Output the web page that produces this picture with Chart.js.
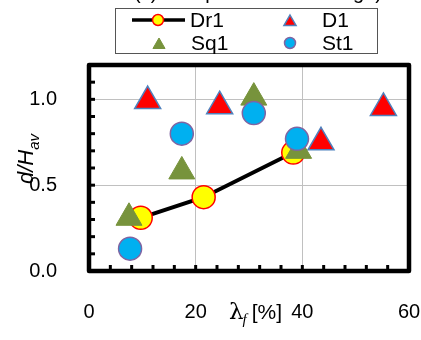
<!DOCTYPE html>
<html>
<head>
<meta charset="utf-8">
<script src="https://cdn.jsdelivr.net/npm/chart.js@4"></script>
<style>
  html, body { margin: 0; padding: 0; background: #fff; }
  #wrap { width: 421px; height: 340px; position: relative; }
</style>
</head>
<body>
<div id="wrap"><canvas id="chart" width="421" height="340"></canvas></div>
<script>
  // values: x = lambda_f [%], y = d/H_av
  const dr1X = [9.7, 21.5, 38.3];
  const dr1Y = [0.31, 0.43, 0.69];
  const d1X = [11.0, 24.5, 43.5, 55.2];
  const d1Y = [0.99, 0.96, 0.75, 0.95];
  const sq1X = [7.5, 17.4, 30.9, 39.3];
  const sq1Y = [0.31, 0.58, 1.01, 0.70];
  const st1X = [7.7, 17.4, 30.9, 39.0];
  const st1Y = [0.13, 0.80, 0.92, 0.77];

  const xTicks = [0, 20, 40, 60];
  const yTicks = [0.0, 0.5, 1.0];
  const xMinorStep = 4;
  const yMinorStep = 0.1;

  const titleText = '(c) Compact to wider range)';
  const FONT = '"Liberation Sans", Arial, sans-serif';

  const pts = (xs, ys) => xs.map((x, i) => ({ x, y: ys[i] }));

  // frame, minor ticks, axis titles, clipped top title
  const decor = {
    id: 'decor',
    beforeDatasetsDraw(chart) {
      const { ctx, chartArea: a, scales: { x, y } } = chart;
      ctx.save();
      ctx.strokeStyle = '#000';
      ctx.lineWidth = 3;
      for (let v = xMinorStep; v < 60; v += xMinorStep) {
        const px = x.getPixelForValue(v);
        ctx.beginPath(); ctx.moveTo(px, a.bottom); ctx.lineTo(px, a.bottom - 6); ctx.stroke();
      }
      for (let v = yMinorStep; v < 1.2 - 1e-6; v += yMinorStep) {
        const py = y.getPixelForValue(v);
        ctx.beginPath(); ctx.moveTo(a.left, py); ctx.lineTo(a.left + 6, py); ctx.stroke();
      }
      ctx.lineWidth = 4.5;
      ctx.lineJoin = 'round';
      ctx.strokeRect(a.left, a.top, a.right - a.left, a.bottom - a.top);
      ctx.restore();
    },
    afterDraw(chart) {
      const { ctx } = chart;
      ctx.save();
      ctx.fillStyle = '#000';
      // top title, mostly cut off by the page edge
      ctx.font = '20px ' + FONT;
      ctx.textAlign = 'center';
      ctx.textBaseline = 'alphabetic';
      ctx.fillText(titleText, 258, -1);

      // x title: lambda_f [%]
      ctx.textAlign = 'left';
      let cx = 229;
      const base = 319;
      ctx.font = '23px "DejaVu Serif", serif';
      ctx.fillText('\u03bb', cx, base);
      cx += ctx.measureText('\u03bb').width;
      ctx.font = 'italic 15px "Liberation Serif", serif';
      ctx.fillText('f', cx - 1, base + 5);
      cx += ctx.measureText('f').width + 4;
      ctx.font = '21px ' + FONT;
      ctx.fillText('[%]', cx, base);

      // y title: d/H_av
      ctx.translate(33, 184);
      ctx.rotate(-Math.PI / 2);
      ctx.font = 'italic 22px ' + FONT;
      ctx.fillText('d/H', 0, 0);
      const w = ctx.measureText('d/H').width;
      ctx.font = 'italic 15px ' + FONT;
      ctx.fillText('av', w, 6);
      ctx.restore();
    }
  };

  // two-column legend box
  const boxLegend = {
    id: 'boxLegend',
    afterDraw(chart) {
      const { ctx } = chart;
      const ds = chart.data.datasets;
      ctx.save();
      ctx.strokeStyle = '#555';
      ctx.lineWidth = 1;
      ctx.fillStyle = '#fff';
      ctx.fillRect(115.5, 8.5, 262, 45);
      ctx.strokeRect(115.5, 8.5, 262, 45);
      const slots = [[158, 20], [290, 20], [159, 43], [290, 43]];
      ds.forEach((d, i) => {
        const [sx, sy] = slots[i];
        if (d.showLine) {
          ctx.strokeStyle = d.borderColor;
          ctx.lineWidth = 3.5;
          ctx.beginPath(); ctx.moveTo(sx - 26, sy); ctx.lineTo(sx + 27, sy); ctx.stroke();
        }
        ctx.fillStyle = d.pointBackgroundColor;
        ctx.strokeStyle = d.pointBorderColor;
        ctx.lineWidth = d.pointBorderWidth;
        Chart.helpers.drawPoint(ctx, {
          pointStyle: d.pointStyle,
          radius: d.pointStyle === 'triangle' ? 7 : 5.5,
          borderWidth: d.pointBorderWidth
        }, sx, d.pointStyle === 'triangle' ? sy + 2 : sy);
        ctx.fillStyle = '#000';
        ctx.font = '21px ' + FONT;
        ctx.textBaseline = 'middle';
        ctx.fillText(d.label, sx + 32, sy + 1);
      });
      ctx.restore();
    }
  };

  new Chart(document.getElementById('chart'), {
    type: 'scatter',
    data: {
      datasets: [
        {
          label: 'Dr1', data: pts(dr1X, dr1Y), showLine: true,
          borderColor: '#000', borderWidth: 4,
          pointStyle: 'circle', pointRadius: 11.5, pointBorderWidth: 1.5,
          pointBackgroundColor: '#ffff00', pointBorderColor: '#ff0000', order: 4
        },
        {
          label: 'D1', data: pts(d1X, d1Y), showLine: false,
          pointStyle: 'triangle', pointRadius: 15, pointBorderWidth: 1.5,
          pointBackgroundColor: '#ff0000', pointBorderColor: '#4f81bd', order: 3
        },
        {
          label: 'Sq1', data: pts(sq1X, sq1Y), showLine: false,
          pointStyle: 'triangle', pointRadius: 15, pointBorderWidth: 1,
          pointBackgroundColor: '#77933c', pointBorderColor: '#77933c', order: 2
        },
        {
          label: 'St1', data: pts(st1X, st1Y), showLine: false,
          pointStyle: 'circle', pointRadius: 11.5, pointBorderWidth: 1.5,
          pointBackgroundColor: '#00b0f0', pointBorderColor: '#8064a2', order: 1
        }
      ]
    },
    options: {
      responsive: false,
      animation: false,
      clip: false,
      layout: { autoPadding: false, padding: { top: 65, right: 12, left: 0, bottom: 0 } },
      plugins: { legend: { display: false }, tooltip: { enabled: false } },
      scales: {
        x: {
          type: 'linear', min: 0, max: 60,
          afterBuildTicks: s => { s.ticks = xTicks.map(v => ({ value: v })); },
          afterFit: s => { s.height = 69; },
          ticks: { padding: 0, color: '#000', font: { family: FONT, size: 20 } },
          grid: { color: '#c0c0c0', lineWidth: 1, drawTicks: true, tickLength: 29,
                  tickColor: 'rgba(0,0,0,0)' },
          border: { display: false }
        },
        y: {
          type: 'linear', min: 0, max: 1.2,
          afterBuildTicks: s => { s.ticks = yTicks.map(v => ({ value: v })); },
          afterFit: s => { s.width = 89; },
          ticks: { padding: 32, color: '#000', font: { family: FONT, size: 20 },
                   callback: v => v.toFixed(1) },
          grid: { color: '#c0c0c0', lineWidth: 1, drawTicks: false },
          border: { display: false }
        }
      }
    },
    plugins: [decor, boxLegend]
  });
</script>
</body>
</html>
